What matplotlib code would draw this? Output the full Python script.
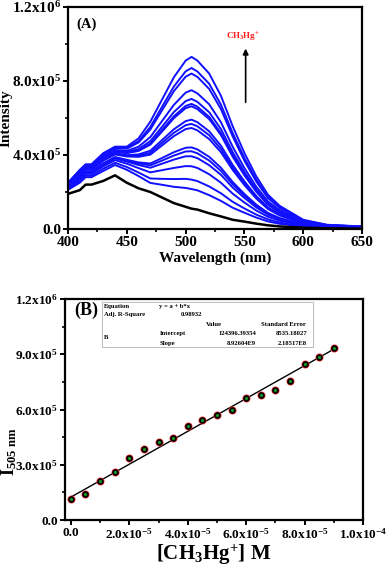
import matplotlib
matplotlib.use("Agg")
import matplotlib.pyplot as plt
from matplotlib.ticker import MultipleLocator, FuncFormatter
from matplotlib.patches import Rectangle

plt.rcParams['font.family'] = ['Liberation Serif', 'DejaVu Serif']
plt.rcParams['font.weight'] = 'bold'
plt.rcParams['axes.labelweight'] = 'bold'
plt.rcParams['mathtext.fontset'] = 'custom'
plt.rcParams['mathtext.rm'] = 'Liberation Serif:bold'
plt.rcParams['mathtext.bf'] = 'Liberation Serif:bold'
plt.rcParams['mathtext.it'] = 'Liberation Serif:bold'

# (A) emission spectra, intensity in units of 1e3
wavelength = [400, 410, 415, 420, 430, 440, 450, 460, 470, 480, 490, 500, 505, 510,
              520, 530, 540, 550, 560, 570, 580, 600, 620, 650]
blank = [190, 210, 240, 240, 260, 290, 250, 220, 200, 170, 140, 120, 110, 105,
         85, 68, 50, 40, 29, 20, 14, 7, 4, 2]
spectra = [
    [212, 250, 280, 280, 314, 346, 320, 286, 249, 239, 228, 222, 216, 209, 183, 152, 115, 88, 62, 41, 28, 13, 6, 4],
    [216, 258, 288, 288, 326, 358, 335, 305, 273, 271, 270, 271, 267, 259, 230, 193, 147, 111, 78, 52, 35, 15, 8, 4],
    [222, 268, 298, 298, 339, 372, 353, 329, 306, 318, 330, 340, 339, 330, 296, 250, 191, 143, 100, 66, 45, 19, 9, 5],
    [225, 275, 305, 305, 348, 381, 364, 346, 331, 353, 375, 393, 393, 383, 345, 293, 224, 168, 117, 77, 52, 22, 11, 6],
    [227, 278, 308, 308, 352, 385, 370, 354, 344, 370, 397, 419, 420, 409, 370, 314, 241, 180, 126, 82, 56, 23, 11, 7],
    [228, 280, 310, 310, 355, 389, 374, 360, 354, 384, 415, 439, 441, 430, 390, 331, 254, 189, 132, 87, 59, 24, 12, 7],
    [234, 290, 320, 320, 369, 403, 392, 390, 402, 452, 502, 540, 546, 533, 486, 415, 319, 237, 165, 108, 73, 30, 14, 8],
    [235, 292, 322, 322, 372, 406, 396, 396, 412, 466, 520, 561, 568, 555, 507, 432, 332, 247, 172, 112, 76, 31, 15, 9],
    [236, 294, 324, 324, 375, 409, 399, 403, 423, 481, 539, 583, 591, 577, 528, 450, 346, 257, 179, 117, 79, 32, 15, 9],
    [239, 300, 330, 330, 383, 417, 410, 422, 456, 527, 599, 653, 663, 648, 594, 508, 391, 290, 202, 131, 89, 36, 17, 10],
    [240, 301, 331, 331, 385, 419, 412, 425, 462, 536, 609, 665, 676, 661, 606, 518, 399, 295, 206, 134, 91, 37, 17, 10],
    [241, 304, 334, 334, 388, 422, 416, 432, 475, 553, 632, 691, 703, 687, 631, 540, 415, 308, 214, 139, 94, 38, 18, 11],
    [243, 307, 337, 337, 393, 427, 422, 445, 497, 584, 671, 737, 750, 733, 674, 577, 444, 329, 229, 149, 101, 41, 19, 11],
    [247, 314, 344, 344, 402, 436, 434, 468, 538, 642, 745, 823, 840, 822, 757, 648, 500, 369, 257, 167, 113, 45, 21, 13],
    [248, 316, 346, 346, 404, 439, 438, 475, 552, 661, 770, 852, 870, 851, 785, 672, 518, 383, 266, 173, 117, 47, 22, 13],
    [250, 320, 350, 350, 410, 445, 445, 490, 580, 700, 820, 910, 930, 910, 840, 720, 555, 410, 285, 185, 125, 50, 23, 14],
]

# (B) intensity at 505 nm vs concentration
conc = [0, 0.5e-5, 1.0e-5, 1.5e-5, 2.0e-5, 2.5e-5, 3.0e-5, 3.5e-5, 4.0e-5, 4.5e-5,
        5.0e-5, 5.5e-5, 6.0e-5, 6.5e-5, 7.0e-5, 7.5e-5, 8.0e-5, 8.5e-5, 9.0e-5]
i505 = [1.12e5, 1.40e5, 2.12e5, 2.63e5, 3.35e5, 3.88e5, 4.26e5, 4.44e5, 5.13e5, 5.44e5,
        5.71e5, 5.98e5, 6.60e5, 6.80e5, 7.05e5, 7.56e5, 8.45e5, 8.83e5, 9.32e5]
intercept = 124396.39354
slope = 8.92604e9


def sci(v, pos):
    if v == 0:
        return "0.0"
    e = 0
    m = abs(v)
    while m >= 10 - 1e-9:
        m /= 10
        e += 1
    while m < 1 - 1e-9:
        m *= 10
        e -= 1
    return "%.1fx10$^{%d}$" % (m if v > 0 else -m, e)


def style(ax, size):
    for s in ax.spines.values():
        s.set_linewidth(1.6)
    ax.tick_params(which='major', direction='out', length=3.5, width=1.4, labelsize=size, pad=1.5)
    ax.tick_params(which='minor', direction='out', length=2, width=1.2)
    ax.yaxis.set_major_formatter(FuncFormatter(sci))


fig = plt.figure(figsize=(3.87, 5.68), dpi=100)

ax1 = fig.add_axes([0.1757, 0.5968, 0.760, 0.391])
for s in spectra:
    ax1.plot(wavelength, [v * 1e3 for v in s], color="#1010ff", lw=1.4)
ax1.plot(wavelength, [v * 1e3 for v in blank], color="black", lw=1.8)
ax1.set_xlim(400, 650)
ax1.set_ylim(0, 1.2e6)
ax1.xaxis.set_major_locator(MultipleLocator(50))
ax1.xaxis.set_minor_locator(MultipleLocator(25))
ax1.yaxis.set_major_locator(MultipleLocator(4e5))
ax1.yaxis.set_minor_locator(MultipleLocator(2e5))
style(ax1, 11)
ax1.set_xlabel("Wavelength (nm)", fontsize=11, labelpad=2)
ax1.set_ylabel("Intensity", fontsize=11)
ax1.yaxis.set_label_coords(-0.19, 0.5)
ax1.text(0.027, 0.923, "(A)", transform=ax1.transAxes, fontsize=10.5, va='center')
ax1.annotate("", xy=(551, 0.99e6), xytext=(551, 0.67e6),
             arrowprops=dict(arrowstyle="-|>", color="black", lw=1.2, mutation_scale=8))
ax1.text(549, 1.0e6, "CH$_{3}$Hg$^{+}$", color="#ff2020", fontsize=6.5, ha='center', va='bottom')

ax2 = fig.add_axes([0.168, 0.0845, 0.770, 0.389])
xs = [0, conc[-1]]
ax2.plot(xs, [intercept + slope * x for x in xs], color="black", lw=1.0, zorder=2)
ax2.plot(conc, i505, 'o', color="#ff3030", ms=5.8, mec='none', zorder=3)
ax2.plot(conc, i505, 'o', color="black", ms=4.8, mec='none', zorder=4)
ax2.plot(conc, i505, 'o', color="#1a9a1a", ms=2.2, mec='none', zorder=5)
ax2.set_xlim(-0.2e-5, 1.0e-4)
ax2.set_ylim(0, 1.2e6)
ax2.xaxis.set_major_locator(MultipleLocator(2e-5))
ax2.xaxis.set_minor_locator(MultipleLocator(1e-5))
ax2.yaxis.set_major_locator(MultipleLocator(3e5))
ax2.yaxis.set_minor_locator(MultipleLocator(1.5e5))
style(ax2, 9.5)
ax2.xaxis.set_major_formatter(FuncFormatter(sci))
ax2.set_xlabel("[CH$_{3}$Hg$^{+}$] M", fontsize=15, labelpad=1)
fig.text(9 / 387, 1 - 452 / 568, "I$_{505\\ nm}$", fontsize=13, fontweight='bold',
         rotation=90, ha='center', va='center')
ax2.text(0.03, 0.95, "(B)", transform=ax2.transAxes, fontsize=13, va='center')

ax2.add_patch(Rectangle((0.124, 0.783), 0.708, 0.203, transform=ax2.transAxes,
                        facecolor='white', edgecolor='#b0b0b0', lw=0.6, zorder=6))
fs = 4.8
cells = [
    (0.131, 0.968, "Equation", 'left'),
    (0.315, 0.968, "y = a + b*x", 'left'),
    (0.131, 0.932, "Adj. R-Square", 'left'),
    (0.46, 0.932, "0.98932", 'right'),
    (0.50, 0.887, "Value", 'center'),
    (0.732, 0.887, "Standard Error", 'center'),
    (0.131, 0.828, "B", 'left'),
    (0.319, 0.842, "Intercept", 'left'),
    (0.641, 0.842, "124396.39354", 'right'),
    (0.812, 0.842, "8535.18027", 'right'),
    (0.319, 0.801, "Slope", 'left'),
    (0.641, 0.801, "8.92604E9", 'right'),
    (0.812, 0.801, "2.18517E8", 'right'),
]
for x, y, s, ha in cells:
    ax2.text(x, y, s, transform=ax2.transAxes, fontsize=fs, ha=ha, va='center', zorder=7)

fig.savefig("out.png")
